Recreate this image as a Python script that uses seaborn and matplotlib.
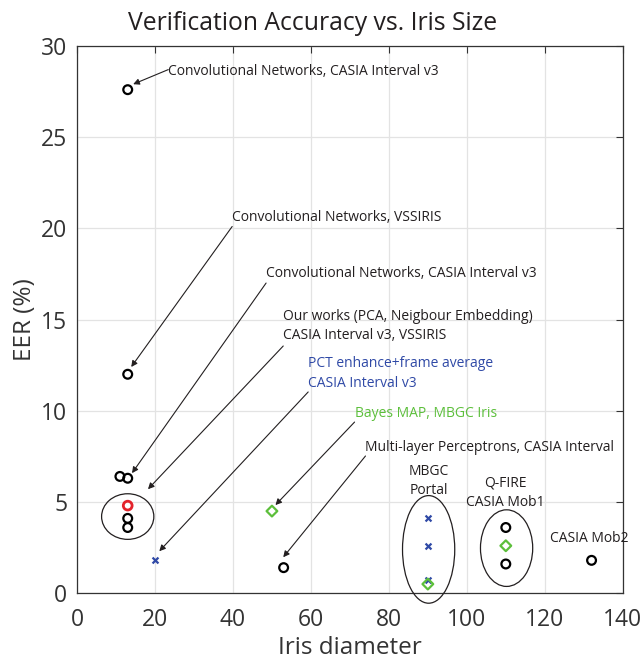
import matplotlib
matplotlib.use("Agg")
import matplotlib.pyplot as plt
import seaborn as sns
import pandas as pd
from matplotlib.patches import Ellipse

# ---- data ----
black_x = [13, 13, 11, 13, 13, 13, 53, 110, 110, 132]
black_y = [27.6, 12.0, 6.4, 6.3, 4.1, 3.6, 1.4, 3.6, 1.6, 1.8]
red_x = [13]
red_y = [4.8]
blue_x = [20, 90, 90, 90]
blue_y = [1.8, 4.1, 2.6, 0.7]
green_x = [50, 90, 110]
green_y = [4.5, 0.5, 2.6]

x_ticks = [0, 20, 40, 60, 80, 100, 120, 140]
y_ticks = [0, 5, 10, 15, 20, 25, 30]

BLUE = "#2F49A6"
GREEN = "#5CBF3B"
RED = "#E3232B"
TXT = "#231F20"

sns.set_theme(style="whitegrid")
plt.rcParams["font.family"] = ["Open Sans", "DejaVu Sans"]

fig = plt.figure(figsize=(6.42, 6.65), dpi=100)
ax = fig.add_axes([0.12, 0.108, 0.850, 0.823])

sns.scatterplot(x=black_x, y=black_y, ax=ax, marker="o", s=40,
                facecolors="none", edgecolor="black", linewidth=1.6, zorder=5)
sns.scatterplot(x=red_x, y=red_y, ax=ax, marker="o", s=40,
                facecolors="none", edgecolor=RED, linewidth=2.0, zorder=5)
sns.scatterplot(x=blue_x, y=blue_y, ax=ax, marker="x", s=18,
                color=BLUE, linewidth=1.6, zorder=5)
sns.scatterplot(x=green_x, y=green_y, ax=ax, marker="D", s=30,
                facecolors="none", edgecolor=GREEN, linewidth=1.6, zorder=5)

ax.set_xlim(0, 140)
ax.set_ylim(0, 30)
ax.set_xticks(x_ticks)
ax.set_yticks(y_ticks)
ax.set_facecolor("white")
ax.grid(True, color="#E3E3E3", linewidth=0.9)
for sp in ax.spines.values():
    sp.set_visible(True)
    sp.set_color("#333333")
    sp.set_linewidth(0.9)
ax.tick_params(axis="both", direction="in", length=5, width=0.8,
               colors="#333333", labelsize=16.5, labelcolor="#333333",
               top=True, right=True, pad=7)
ax.tick_params(axis="x", pad=10.5)
ax.set_xlabel("Iris diameter", fontsize=17.5, color="#333333", labelpad=3)
ax.set_ylabel("EER (%)", fontsize=17.5, color="#333333", labelpad=3)
fig.text(313 / 642, 1 - 23 / 665, "Verification Accuracy vs. Iris Size",
         ha="center", va="center", fontsize=17.8, color=TXT)

# ellipses
for (cx, cy, w, h) in [(13, 4.2, 13.4, 2.5), (90.2, 2.4, 13.4, 5.9), (110.2, 2.47, 13.4, 4.2)]:
    ax.add_patch(Ellipse((cx, cy), w, h, fill=False, edgecolor=TXT,
                         linewidth=0.9, clip_on=False, zorder=4))

fs = 10
def label(x, y, s, color=TXT, ha="left"):
    ax.text(x, y, s, fontsize=fs, color=color, ha=ha, va="center",
            linespacing=1.4, zorder=6)

def arrow(x0, y0, x1, y1):
    ax.annotate("", xy=(x1, y1), xytext=(x0, y0),
                arrowprops=dict(arrowstyle="-|>", color=TXT, lw=0.8,
                                mutation_scale=9, shrinkA=0, shrinkB=0),
                zorder=6)

label(23.4, 28.6, "Convolutional Networks, CASIA Interval v3")
arrow(23.4, 28.7, 14.4, 27.9)
label(39.8, 20.6, "Convolutional Networks, VSSIRIS")
arrow(39.8, 20.1, 13.9, 12.4)
label(48.5, 17.55, "Convolutional Networks, CASIA Interval v3")
arrow(48.5, 17.0, 14.1, 6.58)
label(52.9, 14.65, "Our works (PCA, Neigbour Embedding)\nCASIA Interval v3, VSSIRIS")
arrow(52.9, 13.55, 18.2, 5.7)
label(59.3, 12.04, "PCT enhance+frame average\nCASIA Interval v3", color=BLUE)
arrow(59.3, 11.03, 21.1, 2.3)
label(71.2, 9.87, "Bayes MAP, MBGC Iris", color=GREEN)
arrow(71.2, 9.38, 50.9, 4.83)
label(74.0, 8.0, "Multi-layer Perceptrons, CASIA Interval")
arrow(74.0, 7.52, 52.9, 1.97)
label(90.2, 6.14, "MBGC\nPortal", ha="center")
label(110.0, 5.49, "Q-FIRE\nCASIA Mob1", ha="center")
label(131.5, 3.0, "CASIA Mob2", ha="center")

fig.savefig("out.png", dpi=100)
